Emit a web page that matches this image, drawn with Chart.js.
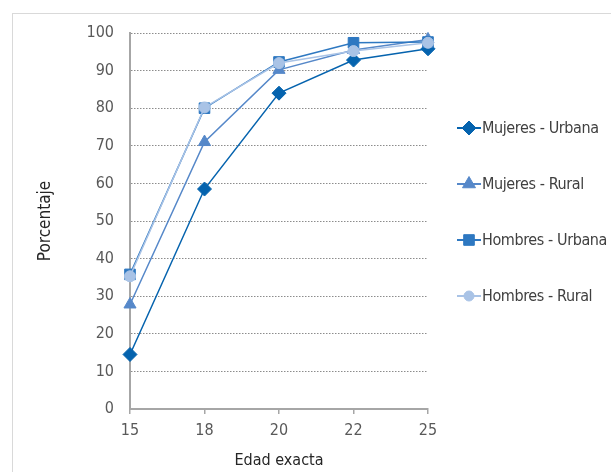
<!DOCTYPE html>
<html>
<head>
<meta charset="utf-8">
<script src="https://cdn.jsdelivr.net/npm/chart.js@4/dist/chart.umd.min.js"></script>
<style>
  html, body { margin: 0; padding: 0; background: #fff; }
  #marco { position: absolute; left: 12px; top: 13px; width: 700px; height: 600px; border: 1px solid #d9d9d9; }
  #grafico { position: absolute; left: 0; top: 0; }
</style>
</head>
<body>
<div id="marco"></div>
<canvas id="grafico" width="611" height="472"></canvas>
<script>
// Edad exacta
const edades = ['15', '18', '20', '22', '25'];

// Porcentaje por grupo
const mujeresUrbana = [14.5, 58.5, 84.0, 92.8, 95.8];
const mujeresRural = [27.8, 71.0, 90.2, 95.5, 98.3];
const hombresUrbana = [35.8, 80.0, 92.3, 97.4, 97.6];
const hombresRural = [35.3, 80.2, 92.0, 95.2, 97.4];

const ticksY = [0, 10, 20, 30, 40, 50, 60, 70, 80, 90, 100];

const fuente = "'DejaVu Sans Condensed', 'DejaVu Sans', sans-serif";
Chart.defaults.font.family = fuente;

const series = [
    { label: 'Mujeres - Urbana', data: mujeresUrbana, color: '#0563ae', estilo: 'rectRot', radio: 7, leyendaRadio: 7, orden: 3 },
    { label: 'Mujeres - Rural', data: mujeresRural, color: '#5688c9', estilo: 'triangle', radio: 7, leyendaRadio: 7.5, orden: 2 },
    { label: 'Hombres - Urbana', data: hombresUrbana, color: '#2e78c1', estilo: 'rect', radio: 7.5, leyendaRadio: 7.5, orden: 1 },
    { label: 'Hombres - Rural', data: hombresRural, color: '#a9c3e6', estilo: 'circle', radio: 5.5, leyendaRadio: 5, orden: 0 }
];

// leyenda dibujada a mano: linea corta con el marcador encima
const leyendaManual = {
    id: 'leyendaManual',
    afterDraw(chart) {
        const ctx = chart.ctx;
        const x0 = 457, x1 = 481;
        let y = 128;
        chart.data.datasets.forEach((ds, i) => {
            ctx.save();
            ctx.strokeStyle = ds.borderColor;
            ctx.lineWidth = 2;
            ctx.beginPath();
            ctx.moveTo(x0, y);
            ctx.lineTo(x1, y);
            ctx.stroke();
            ctx.fillStyle = ds.backgroundColor;
            ctx.strokeStyle = ds.borderColor;
            ctx.lineWidth = 1;
            Chart.helpers.drawPoint(ctx, { pointStyle: ds.pointStyle, radius: series[i].leyendaRadio, borderWidth: 1, rotation: 0 }, (x0 + x1) / 2, y);
            ctx.fillStyle = '#404040';
            ctx.font = '16px ' + fuente;
            ctx.letterSpacing = '-0.4px';
            ctx.textBaseline = 'middle';
            ctx.textAlign = 'left';
            ctx.fillText(ds.label, x1 + 1, y + 1);
            ctx.restore();
            y += 56;
        });
    }
};

const ctx = document.getElementById('grafico').getContext('2d');
new Chart(ctx, {
    type: 'line',
    data: {
        labels: edades,
        datasets: series.map(s => ({
            label: s.label,
            data: s.data,
            borderColor: s.color,
            backgroundColor: s.color,
            borderWidth: 1.5,
            pointStyle: s.estilo,
            pointRadius: s.radio,
            pointBorderWidth: 1,
            pointBackgroundColor: s.color,
            pointBorderColor: s.color,
            tension: 0,
            clip: false,
            order: s.orden
        }))
    },
    options: {
        responsive: false,
        animation: false,
        devicePixelRatio: 1,
        layout: { padding: { left: 0, right: 183, top: 33, bottom: 0 } },
        plugins: {
            legend: { display: false },
            tooltip: { enabled: false },
            title: { display: false }
        },
        scales: {
            x: {
                type: 'category',
                offset: false,
                afterFit: scale => { scale.height = 63; },
                grid: { drawOnChartArea: false, drawTicks: true, tickLength: 5, color: '#a6a6a6', lineWidth: 1.5 },
                border: { display: true, color: '#a6a6a6', width: 2 },
                ticks: { color: '#595959', font: { size: 16 }, padding: 7, maxRotation: 0 },
                title: { display: true, text: 'Edad exacta', color: '#262626', font: { size: 16, lineHeight: 1.2 }, padding: { top: 0, bottom: 2 } }
            },
            y: {
                min: 0,
                max: 100,
                afterFit: scale => { scale.width = 130; },
                afterBuildTicks: scale => { scale.ticks = ticksY.map(v => ({ value: v })); },
                grid: { drawTicks: false, color: '#8c8c8c', lineWidth: 1 },
                border: { display: true, color: '#a6a6a6', width: 2, dash: [1.5, 1.5] },
                ticks: { color: '#595959', font: { size: 16 }, padding: 16 },
                title: { display: true, text: 'Porcentaje', color: '#262626', font: { size: 17, lineHeight: 1.2 }, padding: { top: 35, bottom: 0 } }
            }
        }
    },
    plugins: [leyendaManual]
});
</script>
</body>
</html>
